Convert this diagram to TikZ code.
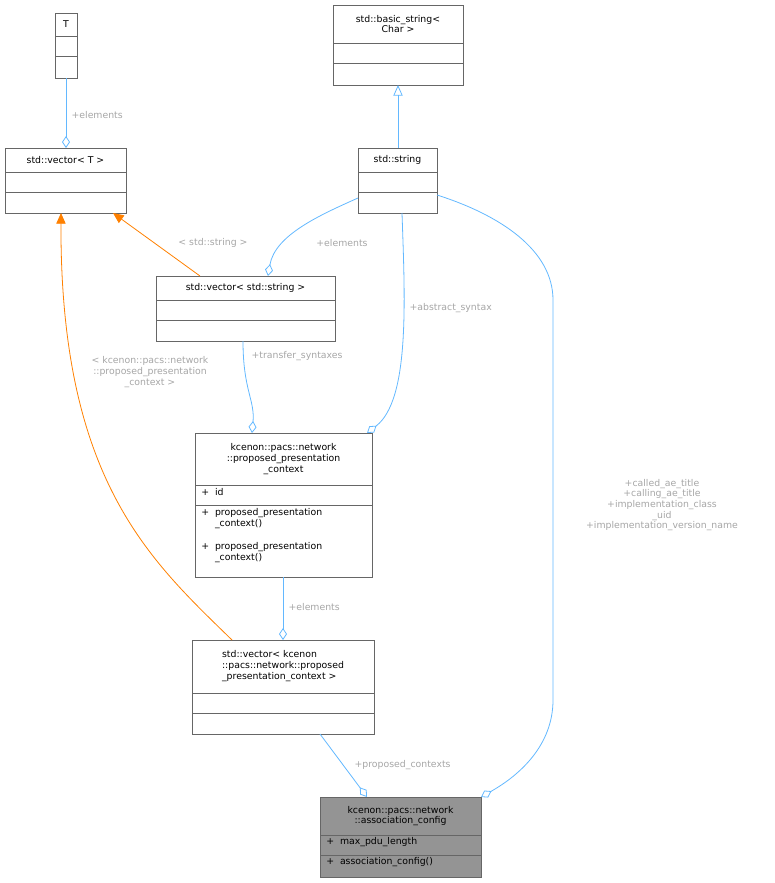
\documentclass[tikz,border=0pt]{standalone}
\usepackage{fontspec}
\setmainfont{DejaVu Sans}
\usetikzlibrary{arrows.meta}
\begin{document}
\begin{tikzpicture}[x=0.75pt,y=-0.75pt,
 box/.style={draw=black!60,line width=0.6pt},
 lbl/.style={font=\fontsize{7}{8}\selectfont,text=black!35,align=center,inner sep=1pt},
 txt/.style={font=\fontsize{7}{8}\selectfont,align=center,inner sep=0pt},
 mem/.style={font=\fontsize{7}{8}\selectfont,align=left,inner sep=0pt,anchor=north west},
 agg/.style={draw={rgb,255:red,99;green,184;blue,255},line width=0.6pt,-{Diamond[open,length=9pt,width=6pt]}},
 inh/.style={draw=orange,line width=0.6pt,-{Triangle[length=8pt,width=7pt]}},
 gen/.style={draw={rgb,255:red,99;green,184;blue,255},line width=0.6pt,-{Triangle[open,length=8pt,width=7pt]}}]
\path[use as bounding box] (0,0) rectangle (775,883);
% T
\draw[box] (55,13) rectangle (77,78); \draw[box] (55,36)--(77,36) (55,56)--(77,56);
\node[txt] (tT) at (66,24) {T};
\coordinate (T) at (66,78);
% basic_string
\draw[box] (333,5) rectangle (463,85); \draw[box] (333,43)--(463,43) (333,63)--(463,63);
\node[txt] (bs) at (398,24) {std::basic\_string<\\Char >};
\coordinate (BS) at (398,85);
% vector<T>
\draw[box] (5,148) rectangle (126,213); \draw[box] (5,172)--(126,172) (5,192)--(126,192);
\node[txt] (vt) at (65.5,160) {std::vector< T >};
\coordinate (VTtop) at (66,148);
% string
\draw[box] (358,148) rectangle (437,213); \draw[box] (358,172)--(437,172) (358,192)--(437,192);
\node[txt] (st) at (397.5,160) {std::string};
% vector<string>
\draw[box] (156,276) rectangle (335,341); \draw[box] (156,300)--(335,300) (156,320)--(335,320);
\node[txt] (vs) at (245.5,288) {std::vector< std::string >};
% ppc
\draw[box] (195,433) rectangle (372,577); \draw[box] (195,485)--(372,485) (195,505)--(372,505);
\node[txt] (ppc) at (283.5,459) {kcenon::pacs::network\\::proposed\_presentation\\\_context};
\node[mem] at (201,488) {+\ \ id};
\node[mem] at (201,508) {+\ \ proposed\_presentation\\\phantom{+\ \ }\_context()};
\node[mem] at (201,542) {+\ \ proposed\_presentation\\\phantom{+\ \ }\_context()};
% vector<ppc>
\draw[box] (192,640) rectangle (374,734); \draw[box] (192,693)--(374,693) (192,713)--(374,713);
\node[txt,align=left] (vp) at (283,666) {std::vector< kcenon\\::pacs::network::proposed\\\_presentation\_context >};
% assoc
\draw[box,fill=black!42] (320,797) rectangle (481,877); \draw[box] (320,835)--(481,835) (320,855)--(481,855);
\node[txt] (ac) at (400.5,816) {kcenon::pacs::network\\::association\_config};
\node[mem] at (326,837) {+\ \ max\_pdu\_length};
\node[mem] at (326,857) {+\ \ association\_config()};
% edges
\draw[agg] (T) -- (VTtop);
\node[lbl,anchor=west] at (70,115) {+elements};
\draw[gen] (398,148) -- (BS);
\draw[inh] (200,276) -- (113,213);
\node[lbl] at (213,243) {< std::string >};
\draw[agg] (358,198) .. controls (320,215) and (275,235) .. (268,276);
\node[lbl] at (342,243) {+elements};
\draw[agg] (402,213) .. controls (405,300) and (410,400) .. (367,433);
\node[lbl,anchor=west] at (408,308) {+abstract\_syntax};
\draw[agg] (243,341) .. controls (243,390) and (255,400) .. (252,433);
\node[lbl,anchor=west] at (250,356) {+transfer\_syntaxes};
\draw[inh] (232,640) .. controls (150,560) and (60,480) .. (61,213);
\node[lbl] at (150,372) {< kcenon::pacs::network\\::proposed\_presentation\\\_context >};
\draw[agg] (283,577) -- (283,640);
\node[lbl,anchor=west] at (287,607) {+elements};
\draw[agg] (320,734) -- (367,797);
\node[lbl,anchor=west] at (353,765) {+proposed\_contexts};
\draw[agg] (437,195) .. controls (500,215) and (553,250) .. (553,300) -- (553,700) .. controls (553,745) and (520,775) .. (481,797);
\node[lbl] at (662,505) {+called\_ae\_title\\+calling\_ae\_title\\+implementation\_class\\\_uid\\+implementation\_version\_name};
\end{tikzpicture}
\end{document}
